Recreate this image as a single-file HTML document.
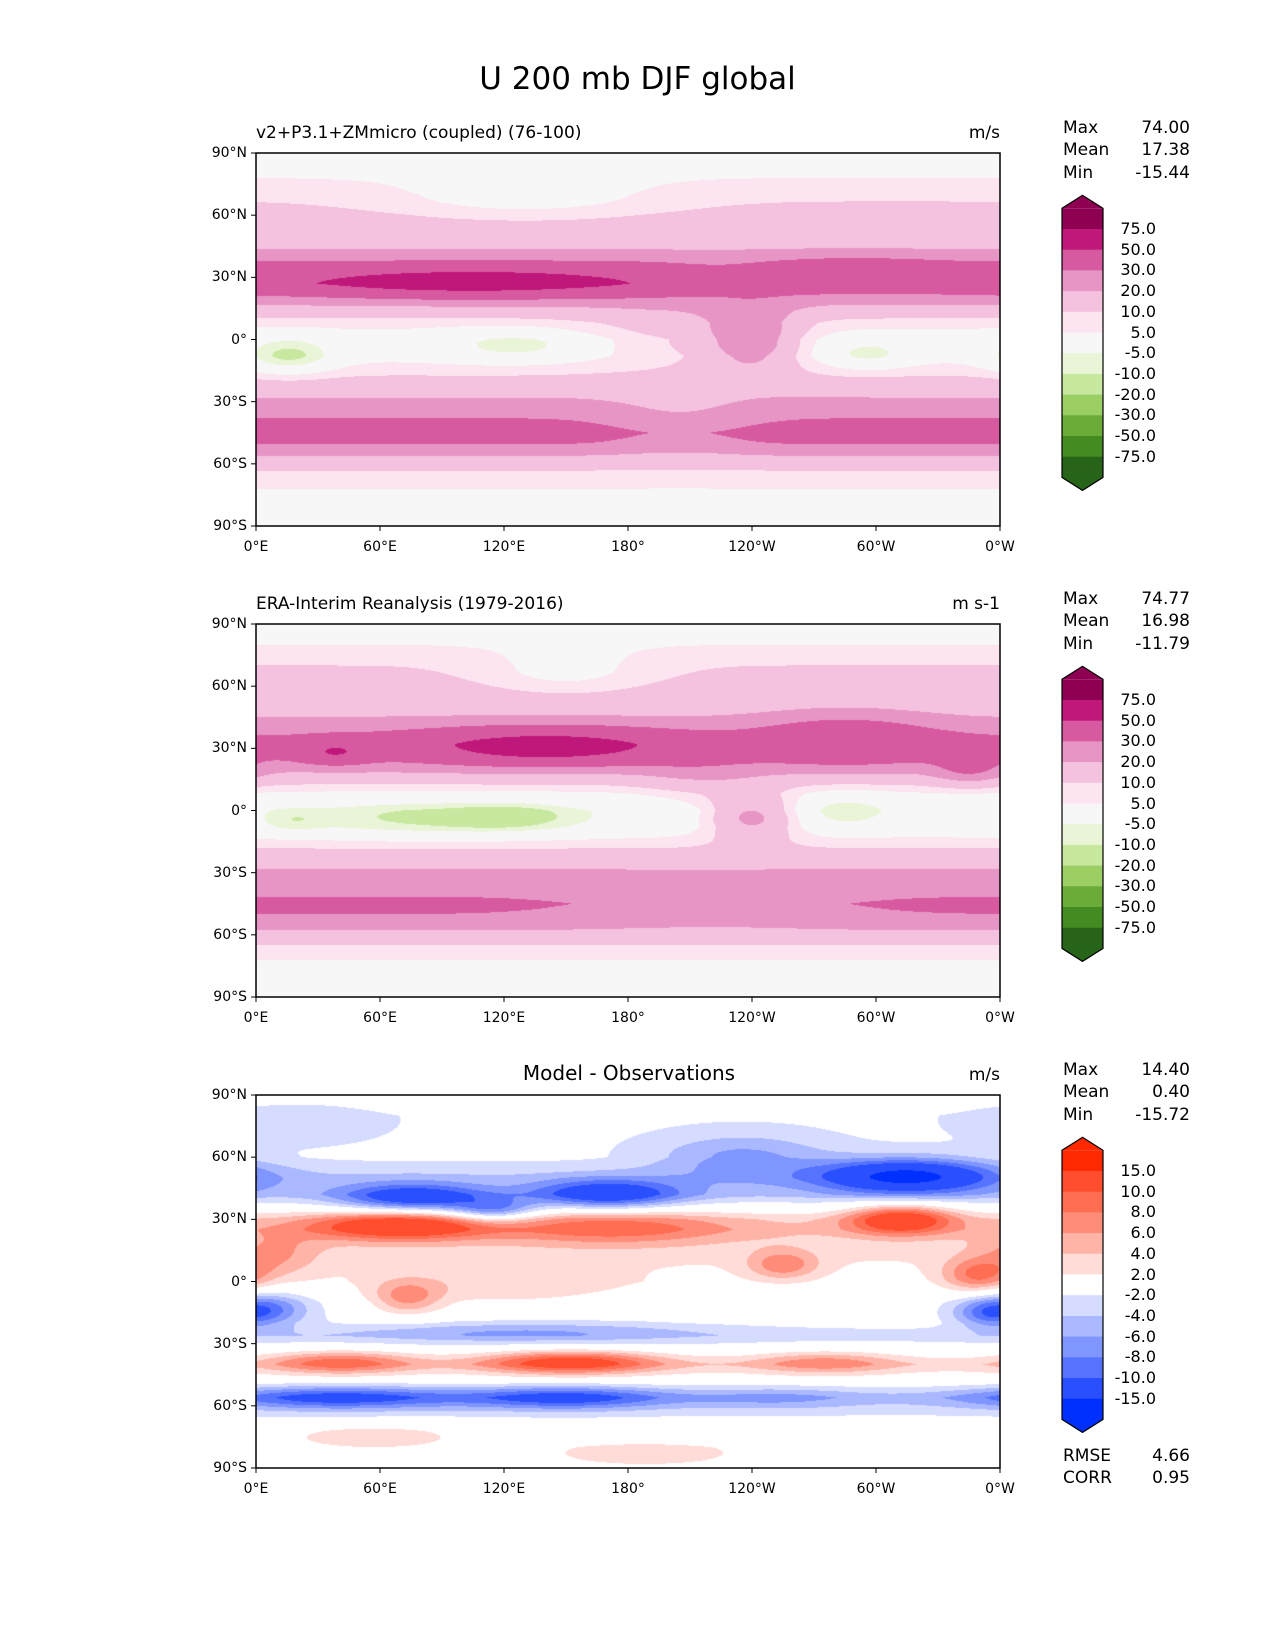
<!DOCTYPE html>
<html><head><meta charset="utf-8">
<style>
body{margin:0;background:#fff;}
#fig{position:relative;width:1275px;height:1650px;background:#fff;font-family:"DejaVu Sans","Liberation Sans",sans-serif;color:#000;overflow:hidden}
.t{position:absolute;white-space:nowrap;line-height:1}
canvas{position:absolute}
</style></head><body>
<div id="fig">
<div class="t" style="left:0;width:1275px;text-align:center;top:64px;font-size:31px">U 200 mb DJF global</div>
<svg id="svg" width="1275" height="1650" style="position:absolute;left:0;top:0"></svg>
</div>
<script>
// ---- data ----
const panelTitles=["v2+P3.1+ZMmicro (coupled) (76-100)","ERA-Interim Reanalysis (1979-2016)","Model - Observations"];
const panelUnits=["m/s","m s-1","m/s"];
const statNames=["Max","Mean","Min"];
const statValues1=["74.00","17.38","-15.44"];
const statValues2=["74.77","16.98","-11.79"];
const statValues3=["14.40","0.40","-15.72"];
const rmseCorr=[["RMSE","4.66"],["CORR","0.95"]];
const latTicks=[90,60,30,0,-30,-60,-90];
const latTickLabels=["90°N","60°N","30°N","0°","30°S","60°S","90°S"];
const lonTicks=[0,60,120,180,240,300,360];
const lonTickLabels=["0°E","60°E","120°E","180°","120°W","60°W","0°W"];
const windLevels=[-75,-50,-30,-20,-10,-5,5,10,20,30,50,75];
const windLevelLabels=["-75.0","-50.0","-30.0","-20.0","-10.0","-5.0","5.0","10.0","20.0","30.0","50.0","75.0"];
const windColors=['#276419','#448b22','#6aac37','#9bcf64','#c8e8a0','#eaf5d8','#f7f7f7','#fce4f0','#f4c1de','#e795c5','#d75aa1','#bf187a','#8e0152'];
const diffLevels=[-15,-10,-8,-6,-4,-2,2,4,6,8,10,15];
const diffLevelLabels=["-15.0","-10.0","-8.0","-6.0","-4.0","-2.0","2.0","4.0","6.0","8.0","10.0","15.0"];
const diffColors=['#0030ff','#2a4fff','#5573ff','#7f95ff','#aab8ff','#d6dcff','#ffffff','#ffdcd8','#ffb4a8','#ff8c78','#ff6d52','#ff4d2e','#ff2800'];
// zonal profiles: latitude nodes and values
const modelLats=[90,80,70,60,50,45,40,33,27,20,14,8,0,-8,-15,-22,-30,-38,-45,-50,-55,-60,-65,-72,-80,-90];
const modelZonal=[2,4,9,12,14,18,25,38,40,25,15,7,2,3,8,14,22,30,36,31,22,14,8,5,3,1];
const obsLats=[90,80,70,60,50,45,38,32,26,20,14,8,0,-8,-15,-22,-30,-38,-45,-50,-55,-60,-65,-72,-80,-90];
const obsZonal=[1,5,10,13,16,20,28,34,31,22,12,4,-1,1,7,14,22,28,32,30,24,17,10,5,2,1];
const diffLats=[90,80,70,60,50,42,35,30,25,20,10,0,-10,-20,-26,-32,-40,-48,-56,-64,-72,-80,-90];
const diffZonal=[0,-1.5,-1.5,-1.5,-4,-4,0,3,4,3,2,1,-1,-1,-3,-1,3,0,-4,-2,0,1,0];
// anomaly blobs: [lonE, lat, amplitude, sigmaLon, sigmaLat]
const modelBlobs=[[105,27,22,60,5],[290,33,8,30,5],[240,0,20,15,11],[210,2,8,35,12],[16,-8,-15,15,6],[126,-3,-10,25,5],[296,-7,-10,15,5],[205,-40,-8,25,10],[130,68,-8,45,7],[225,30,-6,20,6]];
const obsBlobs=[[140,31,28,42,6],[38,28,18,12,4],[285,35,14,28,9],[345,19,12,12,5],[90,-4,-12,50,6],[18,-5,-6,10,4],[122,-3,-8,18,4],[240,-3,22,15,8],[215,15,6,20,8],[220,-45,-6,45,8],[285,0,-8,15,6],[150,66,-8,30,8]];
const diffBlobs=[[76,40,-10,25,5],[170,42,-10,25,5],[115,34,-8,15,4],[315,51,-13,30,6],[235,60,-5,30,8],[20,78,-2,30,8],[69,27,11,30,5],[172,26,6,40,6],[312,30,11,18,5],[255,8,6,12,5],[349,3,7,12,6],[73,-8,6,12,6],[120,-5,3,50,8],[10,13,4,15,8],[7,-13,-6,15,6],[354,-15,-6,12,5],[130,-24,-4,60,4],[152,-39,10,30,4],[41,-39,7,25,4],[275,-39,5,25,4],[40,-56,-8,40,4],[150,-56,-8,35,4],[252,-56,-3,30,4],[57,-74,3,30,4],[188,-84,3,30,4]];

// ---- layout ----
const PX=256,PW=744,PH=373;
const panelTops=[153,624,1095];
const svg=document.getElementById('svg');const fig=document.getElementById('fig');
const NS='http://www.w3.org/2000/svg';
function xOf(lon){return PX+lon/360*PW;}
function yOf(lat,top){return top+(90-lat)/180*PH;}
function interp(lats,vals,lat){for(let k=0;k<lats.length-1;k++){if(lat<=lats[k]&&lat>=lats[k+1]){const f=(lats[k]-lat)/(lats[k]-lats[k+1]);return vals[k]+f*(vals[k+1]-vals[k]);}}return vals[vals.length-1];}
function field(lats,vals,blobs,lon,lat){let v=interp(lats,vals,lat);for(const b of blobs){let d=Math.abs(lon-b[0]);if(d>180)d=360-d;v+=b[2]*Math.exp(-0.5*((d/b[3])**2+((lat-b[1])/b[4])**2));}return v;}
function hex(c){return [parseInt(c.substr(1,2),16),parseInt(c.substr(3,2),16),parseInt(c.substr(5,2),16)];}
function colorIdx(levels,v){let i=0;while(i<levels.length&&v>=levels[i])i++;return i;}
function text(str,x,y,size,anchor,name){const d=document.createElement('div');d.className='t';d.textContent=str;d.style.fontSize=size+'px';d.style.top=(y-size*0.5)+'px';
 if(anchor==='end'){d.style.right=(1275-x)+'px';}else if(anchor==='middle'){d.style.left=(x-200)+'px';d.style.width='400px';d.style.textAlign='center';}else{d.style.left=x+'px';}
 
 
 fig.appendChild(d);return d;}
function sv(tag,attrs,name){const e=document.createElementNS(NS,tag);for(const k in attrs)e.setAttribute(k,attrs[k]);
 
 
 svg.appendChild(e);return e;}

const specs=[[modelLats,modelZonal,modelBlobs,windLevels,windColors,windLevelLabels,statValues1],
 [obsLats,obsZonal,obsBlobs,windLevels,windColors,windLevelLabels,statValues2],
 [diffLats,diffZonal,diffBlobs,diffLevels,diffColors,diffLevelLabels,statValues3]];
specs.forEach((s,i)=>{
 const top=panelTops[i];
 const cv=document.createElement('canvas');cv.width=PW;cv.height=PH;cv.style.left=PX+'px';cv.style.top=top+'px';
 
 
 fig.insertBefore(cv,svg);
 const ctx=cv.getContext('2d');const img=ctx.createImageData(PW,PH);const rgb=s[4].map(hex);
 for(let y=0;y<PH;y++){const lat=90-(y+0.5)/PH*180;for(let x=0;x<PW;x++){const lon=(x+0.5)/PW*360;const v=field(s[0],s[1],s[2],lon,lat);const c=rgb[colorIdx(s[3],v)];const o=(y*PW+x)*4;img.data[o]=c[0];img.data[o+1]=c[1];img.data[o+2]=c[2];img.data[o+3]=255;}}
 ctx.putImageData(img,0,0);
 sv('rect',{x:PX,y:top,width:PW,height:PH,fill:'none',stroke:'#000','stroke-width':1.5},'map-frame-'+(i+1));
 latTicks.forEach((lt,k)=>{const y=yOf(lt,top);sv('line',{x1:PX-5,x2:PX,y1:y,y2:y,stroke:'#000','stroke-width':1},'lat-tick');text(latTickLabels[k],PX-9,y,14,'end','lat-tick-label');});
 lonTicks.forEach((ln,k)=>{const x=xOf(ln);sv('line',{x1:x,x2:x,y1:top+PH,y2:top+PH+5,stroke:'#000','stroke-width':1},'lon-tick');text(lonTickLabels[k],x,top+PH+21,14,'middle','lon-tick-label');});
 if(i<2){text(panelTitles[i],PX,top-20,17,'start','panel-title');}else{text(panelTitles[i],629,top-22,20,'middle','panel-title');}
 text(panelUnits[i],PX+PW,top-20,17,'end','units-label');
 const sy=top-25;
 statNames.forEach((n,k)=>{text(n,1063,sy+k*22.5,17,'start','stat-name');text(s[6][k],1190,sy+k*22.5,17,'end','stat-value');});
 const off=top-153;const cx0=1062,cx1=1103,e0=229+off,h=20.7;const cols=s[4];
 sv('polygon',{points:`${cx0},${e0-h} ${(cx0+cx1)/2},${e0-h-13} ${cx1},${e0-h} `,fill:cols[12],stroke:'none'},'colorbar-extend-top');
 sv('rect',{x:cx0,y:e0-h,width:cx1-cx0,height:h+0.5,fill:cols[12]},'colorbar-box');
 for(let k=0;k<11;k++){sv('rect',{x:cx0,y:e0+k*h,width:cx1-cx0,height:h+0.5,fill:cols[11-k]},'colorbar-box');}
 sv('rect',{x:cx0,y:e0+11*h,width:cx1-cx0,height:h+0.5,fill:cols[0]},'colorbar-box');
 sv('polygon',{points:`${cx0},${e0+12*h} ${(cx0+cx1)/2},${e0+12*h+13} ${cx1},${e0+12*h}`,fill:cols[0]},'colorbar-extend-bottom');
 sv('polygon',{points:`${cx0},${e0-h} ${(cx0+cx1)/2},${e0-h-13} ${cx1},${e0-h} ${cx1},${e0+12*h} ${(cx0+cx1)/2},${e0+12*h+13} ${cx0},${e0+12*h}`,fill:'none',stroke:'#000','stroke-width':1.2},'colorbar-outline');
 for(let k=0;k<12;k++){text(s[5][11-k],1156,e0+k*h,16,'end','colorbar-label');}
});
rmseCorr.forEach((r,k)=>{text(r[0],1063,1456+k*22.5,17,'start','rmse-corr-name');text(r[1],1190,1456+k*22.5,17,'end','rmse-corr-value');});
</script>
</body></html>
